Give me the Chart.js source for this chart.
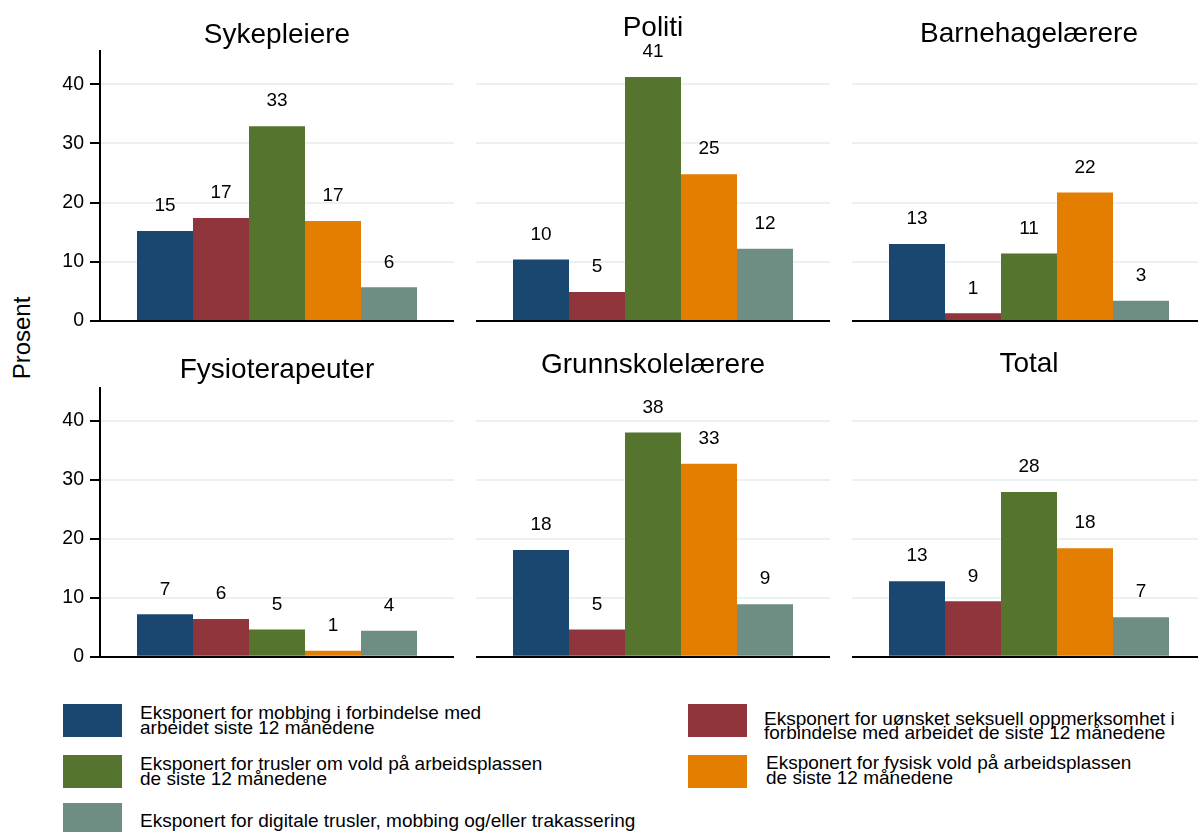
<!DOCTYPE html>
<html>
<head>
<meta charset="utf-8">
<script src="https://cdn.jsdelivr.net/npm/chart.js@4/dist/chart.umd.min.js"></script>
<style>
    html, body { margin: 0; padding: 0; background: #fff; }
    body { width: 1198px; height: 832px; position: relative; overflow: hidden; font-family: "Liberation Sans", Arial, sans-serif; color: #000; }
    canvas { position: absolute; }
    .ylab { position: absolute; font-size: 24px; line-height: 24px; white-space: nowrap; transform: translate(-50%, -50%) rotate(-90deg); }
    .swatch { position: absolute; width: 59px; height: 33px; }
    .ltext { position: absolute; font-size: 19px; line-height: 14.3px; white-space: pre; }
</style>
</head>
<body>
<div class="ylab" style="left:21.7px; top:338px;">Prosent</div>
<div id="legend"></div>

<script>
// Data
const categories = ['Sykepleiere', 'Politi', 'Barnehagelærere', 'Fysioterapeuter', 'Grunnskolelærere', 'Total'];
const seriesNames = [
    'Eksponert for mobbing i forbindelse med\narbeidet siste 12 månedene',
    'Eksponert for uønsket seksuell oppmerksomhet i\nforbindelse med arbeidet de siste 12 månedene',
    'Eksponert for trusler om vold på arbeidsplassen\nde siste 12 månedene',
    'Eksponert for fysisk vold på arbeidsplassen\nde siste 12 månedene',
    'Eksponert for digitale trusler, mobbing og/eller trakassering'
];
const mobbing  = [15.2, 10.4, 13.0, 7.2, 18.1, 12.8];
const seksuell = [17.4, 4.9, 1.3, 6.4, 4.6, 9.4];
const trusler  = [32.9, 41.2, 11.4, 4.6, 38.0, 27.9];
const fysisk   = [16.9, 24.8, 21.7, 1.0, 32.7, 18.4];
const digitale = [5.7, 12.2, 3.4, 4.4, 8.9, 6.7];
const yTicks = [0, 10, 20, 30, 40];

const seriesValues = [mobbing, seksuell, trusler, fysisk, digitale];
const colors = ['#1a476f', '#90353b', '#55752f', '#e37e00', '#6e8e84'];

// Panel placement (canvas box, padding, title baseline)
const panels = [
    { left: 0,   top: 0,   width: 454, height: 345, padTop: 51,   padBottom: 24,   yAxis: true,  titleY: 42.7, yMax: 45.6 },
    { left: 476, top: 0,   width: 354, height: 345, padTop: 51,   padBottom: 24,   yAxis: false, titleY: 36,   yMax: 45.6 },
    { left: 852, top: 0,   width: 354, height: 345, padTop: 51,   padBottom: 24,   yAxis: false, titleY: 41.7, yMax: 45.6 },
    { left: 0,   top: 336, width: 454, height: 345, padTop: 52.3, padBottom: 24.3, yAxis: true,  titleY: 42.3, yMax: 45.5 },
    { left: 476, top: 336, width: 354, height: 345, padTop: 52.3, padBottom: 24.3, yAxis: false, titleY: 37.3, yMax: 45.5 },
    { left: 852, top: 336, width: 354, height: 345, padTop: 52.3, padBottom: 24.3, yAxis: false, titleY: 36.3, yMax: 45.5 }
];

const FONT = '"Liberation Sans", Arial, sans-serif';

// Title over each panel + value labels on bars
const panelText = {
    id: 'panelText',
    afterDatasetsDraw(chart, args, opts) {
        const ctx = chart.ctx;
        const area = chart.chartArea;
        ctx.save();
        ctx.fillStyle = '#000';
        ctx.textAlign = 'center';
        ctx.textBaseline = 'alphabetic';
        ctx.font = '28px ' + FONT;
        ctx.fillText(opts.title, (area.left + area.right) / 2, opts.titleY);

        ctx.font = '19px ' + FONT;
        chart.data.datasets.forEach((ds, i) => {
            const bar = chart.getDatasetMeta(i).data[0];
            ctx.fillText(String(Math.round(ds.data[0])), bar.x, bar.y - 19.7);
        });
        ctx.restore();
    }
};

panels.forEach((p, idx) => {
    const canvas = document.createElement('canvas');
    canvas.width = p.width;
    canvas.height = p.height;
    canvas.style.left = p.left + 'px';
    canvas.style.top = p.top + 'px';
    canvas.style.width = p.width + 'px';
    canvas.style.height = p.height + 'px';
    document.body.appendChild(canvas);

    new Chart(canvas, {
        type: 'bar',
        data: {
            labels: [''],
            datasets: seriesValues.map((vals, i) => ({
                label: seriesNames[i],
                data: [vals[idx]],
                backgroundColor: colors[i],
                borderWidth: 0,
                categoryPercentage: 280 / 354,
                barPercentage: 1
            }))
        },
        options: {
            responsive: false,
            animation: false,
            layout: { padding: { top: p.padTop, bottom: p.padBottom, left: 0, right: 0 } },
            plugins: {
                legend: { display: false },
                tooltip: { enabled: false },
                panelText: { title: categories[idx], titleY: p.titleY }
            },
            scales: {
                x: {
                    type: 'category',
                    grid: { display: false },
                    ticks: { display: false },
                    border: { display: true, color: '#000', width: 2 },
                    afterFit: s => { s.height = 0; }
                },
                y: {
                    min: 0,
                    max: p.yMax,
                    afterBuildTicks: s => { s.ticks = yTicks.map(v => ({ value: v })); },
                    afterFit: s => {
                        s.width = p.yAxis ? 100 : 0;
                        s.paddingTop = 0;
                        s.paddingBottom = 0;
                    },
                    grid: {
                        color: '#eaf1f3',
                        lineWidth: 2,
                        drawTicks: p.yAxis,
                        tickLength: 10,
                        tickColor: '#000',
                        tickWidth: 2
                    },
                    border: { display: p.yAxis, color: '#000', width: 2 },
                    ticks: {
                        display: p.yAxis,
                        color: '#000',
                        padding: 6,
                        font: { family: FONT, size: 19.5 }
                    }
                }
            }
        },
        plugins: [panelText]
    });
});

// Legend
const legendItems = [
    { s: 0, left: 63,  top: 704, textLeft: 140, textTop: 706.3 },
    { s: 1, left: 688, top: 704, textLeft: 764, textTop: 712 },
    { s: 2, left: 63,  top: 755, textLeft: 140, textTop: 757.3 },
    { s: 3, left: 688, top: 755, textLeft: 766, textTop: 756.3 },
    { s: 4, left: 63,  top: 803, textLeft: 140, textTop: 814 }
];
const legend = document.getElementById('legend');
legend.innerHTML = legendItems.map(it => `
    <div class="swatch" style="left:${it.left}px; top:${it.top}px; background:${colors[it.s]};"></div>
    <div class="ltext" style="left:${it.textLeft}px; top:${it.textTop}px;">${seriesNames[it.s]}</div>
`).join('');
</script>
</body>
</html>
